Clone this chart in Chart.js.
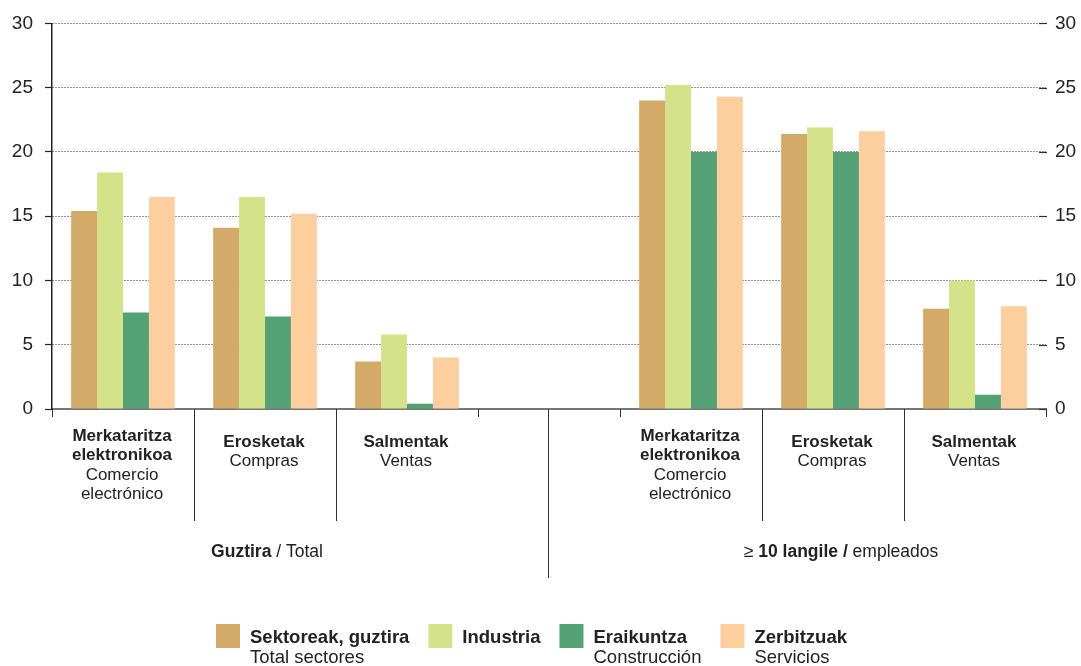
<!DOCTYPE html>
<html>
<head>
<meta charset="utf-8">
<script src="https://cdn.jsdelivr.net/npm/chart.js@4.4.0/dist/chart.umd.min.js"></script>
<style>
    body { margin: 0; background: #fff; }
    #wrap { width: 1081px; height: 666px; }
</style>
</head>
<body>
<div id="wrap"><canvas id="myChart" width="1081" height="666"></canvas></div>
<script>
// categories (4th one is the empty gap between the two groups)
const categories = ['Guztira-Merk', 'Guztira-Eros', 'Guztira-Salm', 'gap', 'Langile-Merk', 'Langile-Eros', 'Langile-Salm'];
const categoryBold = [['Merkataritza', 'elektronikoa'], ['Erosketak'], ['Salmentak'], [], ['Merkataritza', 'elektronikoa'], ['Erosketak'], ['Salmentak']];
const categoryNormal = [['Comercio', 'electrónico'], ['Compras'], ['Ventas'], [], ['Comercio', 'electrónico'], ['Compras'], ['Ventas']];

const groupCenters = [1, 5];
const groupTexts = [
    [['Guztira', true], [' / Total', false]],
    [['\u2265', false], [' 10 langile /', true], [' empleados', false]]
];

const seriesBold = ['Sektoreak, guztira', 'Industria', 'Eraikuntza', 'Zerbitzuak'];
const seriesNormal = ['Total sectores', '', 'Construcción', 'Servicios'];
const seriesColors = ['#D3AA68', '#D4E28A', '#54A175', '#FDCF9E'];

const sektoreak = [15.4, 14.1, 3.7, null, 24.0, 21.4, 7.8];
const industria = [18.4, 16.5, 5.8, null, 25.2, 21.9, 10.0];
const eraikuntza = [7.5, 7.2, 0.4, null, 20.0, 20.0, 1.1];
const zerbitzuak = [16.5, 15.2, 4.0, null, 24.3, 21.6, 8.0];

const yMin = 0;
const yMax = 30;
const yStep = 5;

const FONT = 'Arial, "Liberation Sans", Helvetica, sans-serif';
const TEXT = '#222';

const seriesValues = [sektoreak, industria, eraikuntza, zerbitzuak];

const labelsPlugin = {
    id: 'labelsPlugin',
    afterDraw(chart) {
        const ctx = chart.ctx;
        const x = chart.scales.x;
        const y2 = chart.scales.y2;
        const area = chart.chartArea;
        const bottom = area.bottom;
        const half = (x.getPixelForValue(1) - x.getPixelForValue(0)) / 2;

        ctx.save();
        ctx.strokeStyle = '#333';
        ctx.lineWidth = 1;

        // separators under the axis
        const line = (px, y1, yb) => {
            ctx.beginPath();
            ctx.moveTo(Math.round(px) + 0.5, y1);
            ctx.lineTo(Math.round(px) + 0.5, yb);
            ctx.stroke();
        };
        for (let i = 0; i <= categories.length; i++) {
            const px = x.getPixelForValue(i) - half;
            let len = 8;
            if (i === 1 || i === 2 || i === 5 || i === 6) len = 112;
            line(px, bottom, bottom + len);
        }
        line(x.getPixelForValue(3) - 1, bottom, bottom + 169);

        // right side tick marks
        ctx.lineWidth = 1.2;
        y2.ticks.forEach(t => {
            const py = Math.round(y2.getPixelForValue(t.value)) + 0.5;
            ctx.beginPath();
            ctx.moveTo(area.right - 7, py);
            ctx.lineTo(area.right + 1, py);
            ctx.stroke();
        });

        // category labels
        ctx.fillStyle = TEXT;
        ctx.textAlign = 'center';
        ctx.textBaseline = 'middle';
        categories.forEach((c, i) => {
            const lines = categoryBold[i].map(t => [t, true]).concat(categoryNormal[i].map(t => [t, false]));
            if (!lines.length) return;
            const cx = x.getPixelForValue(i) - 1;
            let cy = lines.length > 2 ? 436 : 442;
            lines.forEach(l => {
                ctx.font = (l[1] ? 'bold ' : '') + '17px ' + FONT;
                ctx.fillText(l[0], cx, cy);
                cy += 19.5;
            });
        });

        // group labels
        ctx.textAlign = 'left';
        groupTexts.forEach((runs, g) => {
            let w = 0;
            runs.forEach(r => {
                ctx.font = (r[1] ? 'bold ' : '') + '17.5px ' + FONT;
                w += ctx.measureText(r[0]).width;
            });
            let px = x.getPixelForValue(groupCenters[g]) - w / 2 + (g === 1 ? 8 : 2);
            runs.forEach(r => {
                ctx.font = (r[1] ? 'bold ' : '') + '17.5px ' + FONT;
                ctx.fillText(r[0], px, 552);
                px += ctx.measureText(r[0]).width;
            });
        });

        // legend
        let lx = 216;
        seriesBold.forEach((name, i) => {
            ctx.fillStyle = seriesColors[i];
            ctx.fillRect(lx, 624, 24, 24);
            ctx.fillStyle = TEXT;
            ctx.font = 'bold 18.5px ' + FONT;
            const tx = lx + 34;
            ctx.fillText(name, tx, 638);
            let w = ctx.measureText(name).width;
            if (seriesNormal[i]) {
                ctx.font = '18.5px ' + FONT;
                ctx.fillText(seriesNormal[i], tx, 658);
                w = Math.max(w, ctx.measureText(seriesNormal[i]).width);
            }
            lx = tx + w + 19;
        });

        ctx.restore();
    }
};

const ctx = document.getElementById('myChart');

new Chart(ctx, {
    type: 'bar',
    data: {
        labels: categories,
        datasets: seriesBold.map((name, i) => ({
            label: name,
            data: seriesValues[i],
            backgroundColor: seriesColors[i],
            borderWidth: 0,
            categoryPercentage: 0.73,
            barPercentage: 1.0
        }))
    },
    options: {
        responsive: false,
        animation: false,
        layout: { padding: { top: 23, left: 0, right: 0, bottom: 0 } },
        plugins: {
            legend: { display: false },
            tooltip: { enabled: false }
        },
        scales: {
            x: {
                ticks: { display: false },
                grid: { display: false, drawTicks: false },
                border: { display: true, color: '#777', width: 2 },
                afterFit: (scale) => { scale.height = 257; }
            },
            y: {
                min: yMin,
                max: yMax,
                ticks: { stepSize: yStep, color: TEXT, padding: 12, font: { family: FONT, size: 19 } },
                grid: {
                    color: (c) => c.tick && c.tick.value === 0 ? 'rgba(0,0,0,0)' : '#222',
                    lineWidth: 1,
                    tickLength: 7,
                    tickColor: '#222',
                    tickWidth: 1.2
                },
                border: { color: '#222', width: 1.5, dash: [1, 2] },
                afterFit: (scale) => { scale.width = 52; }
            },
            y2: {
                position: 'right',
                min: yMin,
                max: yMax,
                ticks: { stepSize: yStep, color: TEXT, padding: 9, font: { family: FONT, size: 19 } },
                grid: { drawOnChartArea: false, drawTicks: false },
                border: { display: false },
                afterFit: (scale) => { scale.width = 35; }
            }
        }
    },
    plugins: [labelsPlugin]
});
</script>
</body>
</html>
